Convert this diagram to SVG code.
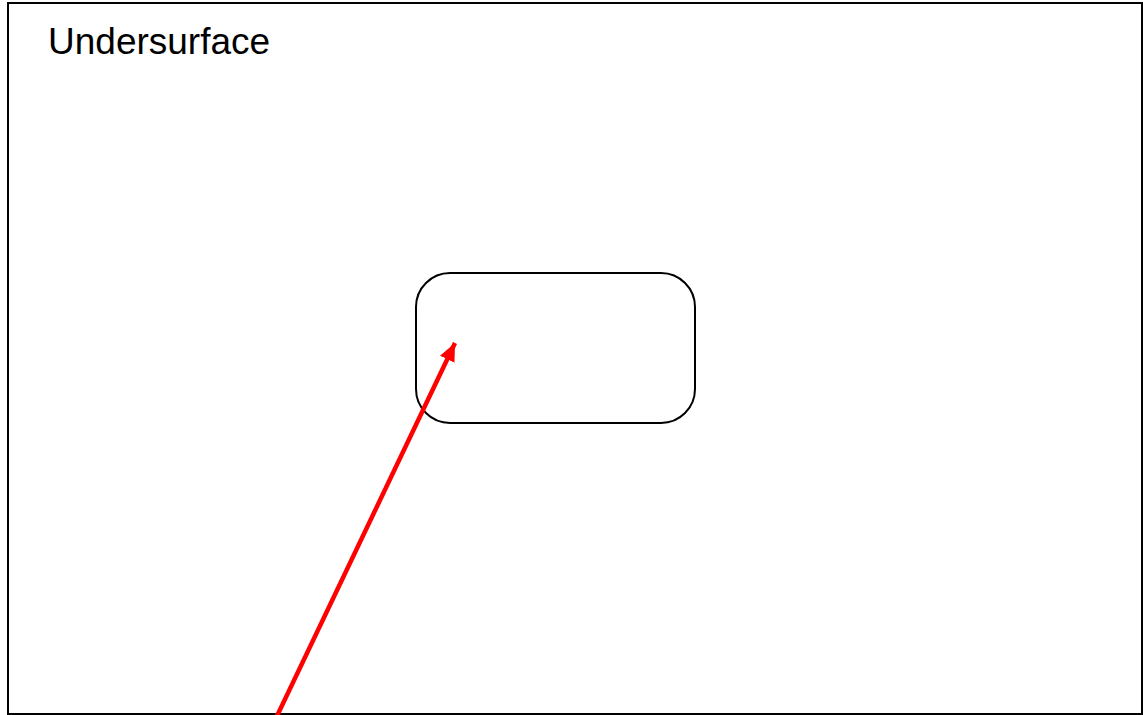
<svg xmlns="http://www.w3.org/2000/svg" width="1143" height="715" viewBox="0 0 1143 715">
<style>
.frame{fill:#fff;stroke:#000;stroke-width:2}
.node{fill:none;stroke:#000;stroke-width:2}
.label{font-family:"Liberation Sans",Arial,sans-serif;font-size:37px;fill:#000}
.conn{stroke:#f00;stroke-width:4.5;fill:none}
</style>
<defs>
<marker id="ah" markerUnits="userSpaceOnUse" markerWidth="18" markerHeight="16" refX="18" refY="8" orient="auto">
<path d="M0,0 L18,8 L0,16 Z" fill="#f00"/>
</marker>
</defs>
<rect class="frame" x="8" y="3" width="1134" height="711"/>
<g id="title"><text class="label" x="48" y="54">Undersurface</text></g>
<g id="box"><rect class="node" x="416" y="273" width="279" height="150" rx="34" ry="34"/></g>
<g id="connectors"><line class="conn" x1="277" y1="716" x2="455" y2="343" marker-end="url(#ah)"/></g>
</svg>
